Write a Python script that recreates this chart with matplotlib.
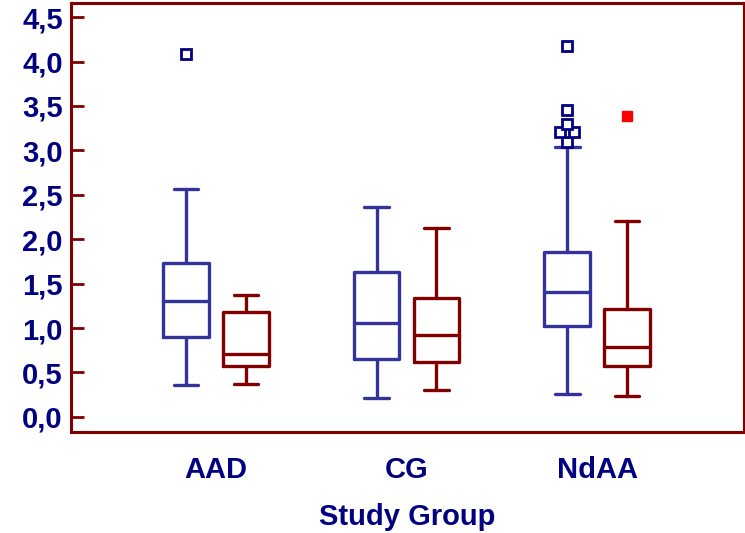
import matplotlib.pyplot as plt
import numpy as np

# Study groups and box statistics (two series per group)
groups = ["AAD", "CG", "NdAA"]

blue_low = [0.36, 0.21, 0.26]
blue_q1 = [0.90, 0.65, 1.02]
blue_med = [1.31, 1.06, 1.41]
blue_q3 = [1.73, 1.63, 1.855]
blue_high = [2.57, 2.36, 3.04]
blue_fliers = [[4.09], [], [4.17, 3.45, 3.30, 3.21, 3.21, 3.09]]

red_low = [0.37, 0.30, 0.24]
red_q1 = [0.57, 0.62, 0.57]
red_med = [0.71, 0.92, 0.79]
red_q3 = [1.18, 1.34, 1.22]
red_high = [1.37, 2.13, 2.20]
red_fliers = [[], [], [3.39]]

BLUE = "#333399"
NAVY = "#000080"
RED = "#800000"


def make_stats(low, q1, med, q3, high):
    return [dict(whislo=a, q1=b, med=c, q3=d, whishi=e, fliers=[])
            for a, b, c, d, e in zip(low, q1, med, q3, high)]


def draw_fliers(ax, positions, fliers, **kw):
    # identical values get spread sideways so they don't overlap
    for x0, vals in zip(positions, fliers):
        vals = np.array(vals)
        for v in np.unique(vals):
            n = np.sum(vals == v)
            offs = (np.arange(n) - (n - 1) / 2) * 0.07
            ax.plot(x0 + offs, [v] * n, linestyle="none", marker="s", **kw)


fig = plt.figure(figsize=(7.45, 5.33), dpi=100)
ax = fig.add_axes([0.0953, 0.1895, 0.903, 0.805])

pos = np.arange(1, len(groups) + 1)
off = 0.157

for stats, p, col in [(make_stats(blue_low, blue_q1, blue_med, blue_q3, blue_high), pos - off, BLUE),
                      (make_stats(red_low, red_q1, red_med, red_q3, red_high), pos + off, RED)]:
    lp = dict(color=col, linewidth=2.4, solid_capstyle="round")
    ax.bxp(stats, positions=p, widths=0.24, capwidths=0.13, showfliers=False,
           boxprops=lp, whiskerprops=lp, capprops=lp, medianprops=lp,
           manage_ticks=False)

draw_fliers(ax, pos - off, blue_fliers, markersize=7, markerfacecolor="white",
            markeredgecolor=NAVY, markeredgewidth=2)
draw_fliers(ax, pos + off, red_fliers, markersize=7, markerfacecolor="#ff0000",
            markeredgecolor="#ff0000", markeredgewidth=1)

ax.set_xlim(0.239, 3.77)
ax.set_ylim(-0.17, 4.66)
ax.set_xticks(pos)
ax.set_xticklabels(groups)
yt = np.arange(0, 4.51, 0.5)
ax.set_yticks(yt)
ax.set_yticklabels([f"{v:.1f}".replace(".", ",") for v in yt])

font = dict(family="Liberation Sans", weight="bold", size=21, color=NAVY)
for lab in ax.get_xticklabels() + ax.get_yticklabels():
    lab.set_fontfamily(font["family"])
    lab.set_fontweight("bold")
    lab.set_fontsize(21)
    lab.set_color(NAVY)

ax.tick_params(axis="y", direction="in", length=9.5, width=2, color=RED, pad=6)
ax.tick_params(axis="x", length=0, pad=17)
ax.set_xlabel("Study Group", labelpad=14, **font)

for s in ax.spines.values():
    s.set_color(RED)
    s.set_linewidth(2.2)

fig.savefig("out.png", dpi=100)
